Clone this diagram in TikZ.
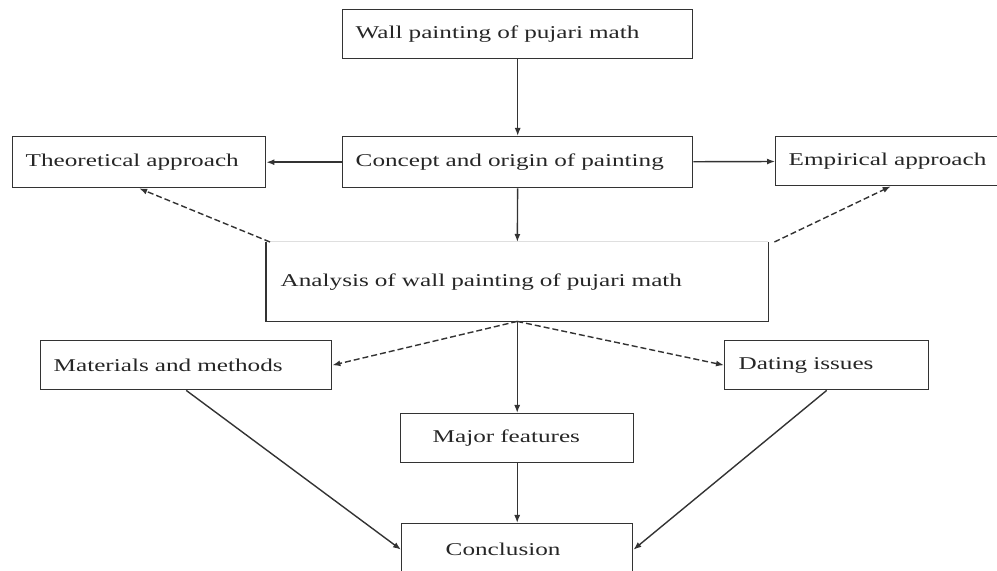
\documentclass[tikz,border=0pt]{standalone}
\usepackage{fontspec}
\setmainfont{Liberation Serif}[FakeStretch=1.4]
\usetikzlibrary{arrows.meta}

\begin{document}
\begin{tikzpicture}[x=0.5pt, y=-0.5pt]
            \tikzstyle{every node}=[font=\fontsize{9}{11}\selectfont, text=black!85]
            \tikzstyle{box}=[draw=black!80, rectangle, anchor=north west, align=left, inner ysep=0pt, inner xsep=6.5pt, line width=0.7pt]
            \tikzstyle{edge}=[black!80, line width=0.7pt, -{Latex[length=4pt, width=3pt]}]
            \tikzstyle{dashedge}=[edge, dash pattern=on 3pt off 1.5pt]

            \clip (0,0) rectangle (997,571);

            \node[box, text width=162pt, minimum height=24.5pt] (wall) at (342,9) {Wall painting of pujari math};
            \node[box, text width=162pt, minimum height=25.5pt] (concept) at (342,136) {Concept and origin of painting};
            \node[box, text width=113.5pt, minimum height=25.5pt] (theory) at (12,136) {Theoretical approach};
            \node[box, text width=107pt, minimum height=24.5pt] (empiric) at (775,136) {Empirical approach};
            \node[box, draw=none, text width=236.5pt, inner xsep=7pt, minimum height=39pt] (analysis) at (266,242) {Analysis of wall painting of pujari math};
            \node[box, text width=132.5pt, minimum height=24.5pt] (materials) at (40,340) {Materials and methods};
            \node[box, text width=88pt, inner xsep=7pt, minimum height=24.5pt] (dating) at (724,340) {Dating issues};
            \node[box, text width=84.5pt, inner xsep=16pt, minimum height=24.5pt] (major) at (400,413) {Major features};
            \node[box, text width=71.5pt, inner xsep=22pt, minimum height=26pt] (conclusion) at (401,523) {Conclusion};

            % analysis box has a faint top edge
            \draw[black!80, line width=0.7pt] (analysis.north west) -- (analysis.south west) -- (analysis.south east) -- (analysis.north east);
            \draw[gray!25, line width=0.5pt] (analysis.north west) -- (analysis.north east);

            \draw[edge] (wall) -- (concept);
            \draw[edge] (concept) -- (theory);
            \draw[edge] (concept) -- (empiric);
            \draw[edge] (concept) -- (analysis);
            \draw[dashedge] ([xshift=2pt]analysis.north west) -- (theory.south);
            \draw[dashedge] ([xshift=3pt]analysis.north east) -- ([xshift=-2.5pt]empiric.south);

            \draw[dashedge] (analysis.south) -- (materials.east);
            \draw[dashedge] (analysis.south) -- (dating.west);
            \draw[edge] (analysis) -- (major);
            \draw[edge] (major) -- (conclusion);
            \draw[edge] (materials.south) -- (conclusion.west);
            \draw[edge] (dating.south) -- (conclusion.east);
\end{tikzpicture}
\end{document}
